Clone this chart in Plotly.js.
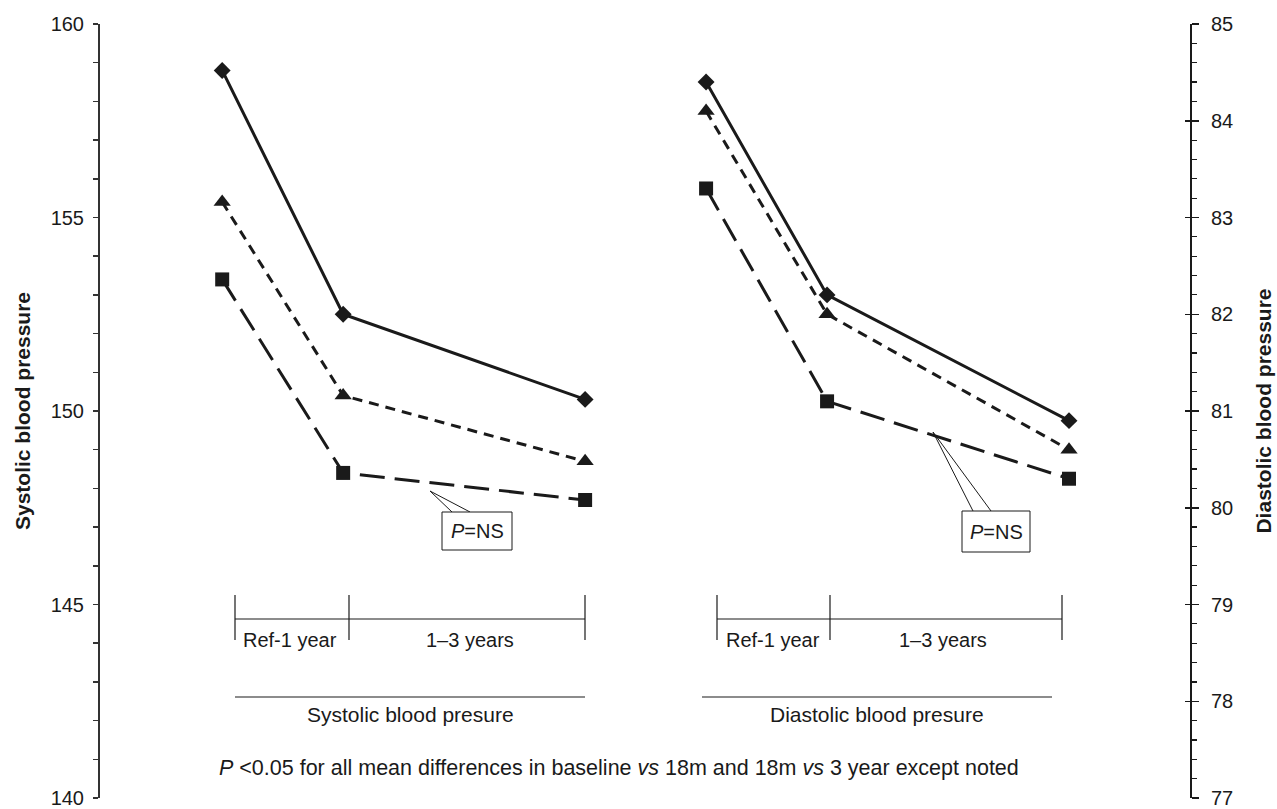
<!DOCTYPE html>
<html>
<head>
<meta charset="utf-8">
<script src="https://cdn.plot.ly/plotly-3.0.1.min.js"></script>
<style>html,body{margin:0;padding:0;background:#fff;}#chart{width:1277px;height:809px;}</style>
</head>
<body>
<div id="chart"></div>
<script>
// ---- data ----
const timepoints = [0, 1, 3];            // years: reference, 1 year, 3 years
const sysDiamond  = [158.8, 152.5, 150.3];
const sysTriangle = [155.4, 150.4, 148.7];
const sysSquare   = [153.4, 148.4, 147.7];
const diaDiamond  = [84.4, 82.2, 80.9];
const diaTriangle = [84.1, 82.0, 80.6];
const diaSquare   = [83.3, 81.1, 80.3];
const sysTicks = [140, 145, 150, 155, 160];
const diaTicks = [77, 78, 79, 80, 81, 82, 83, 84, 85];

// ---- layout helpers ----
const diaOffset = 4;
const L = 100, R = 1190, T = 24, B = 798;
function px(x) { return (x - L) / (R - L); }
function py(y) { return (B - y) / (B - T); }
const ink = '#1a1a1a';
const FONT = 'Liberation Sans, Arial, sans-serif';
const FS = 20;

function series(xs, ys, yaxis, symbol, size, dash) {
  return {
    x: xs, y: ys, yaxis: yaxis, type: 'scatter', mode: 'lines+markers',
    line: {color: ink, width: 3, dash: dash},
    marker: {symbol: symbol, size: size, color: ink},
    showlegend: false, hoverinfo: 'skip'
  };
}
const diaX = timepoints.map(t => t + diaOffset);
const traces = [
  series(timepoints, sysDiamond, 'y', 'diamond', 13, 'solid'),
  series(timepoints, sysTriangle, 'y', 'triangle-up', 15, '10px,7px'),
  series(timepoints, sysSquare, 'y', 'square', 14, '25px,10px'),
  series(diaX, diaDiamond, 'y2', 'diamond', 13, 'solid'),
  series(diaX, diaTriangle, 'y2', 'triangle-up', 15, '10px,7px'),
  series(diaX, diaSquare, 'y2', 'square', 14, '25px,10px'),
  // invisible trace to activate the third (inside-ticks) axis
  {x: [diaX[0]], y: [diaTicks[0]], yaxis: 'y3', mode: 'markers', marker: {opacity: 0}, showlegend: false, hoverinfo: 'skip'}
];

function seg(x0, y0, x1, y1, w) {
  return {type: 'line', xref: 'paper', yref: 'paper', x0: px(x0), y0: py(y0), x1: px(x1), y1: py(y1),
          line: {color: ink, width: w || 1.2}};
}
function path(pts) {
  let d = pts.map((p, i) => (i ? 'L' : 'M') + px(p[0]) + ',' + py(p[1])).join(' ');
  return {type: 'path', xref: 'paper', yref: 'paper', path: d, line: {color: ink, width: 1}};
}
function rect(x0, y0, x1, y1) {
  return {type: 'rect', xref: 'paper', yref: 'paper', x0: px(x0), y0: py(y0), x1: px(x1), y1: py(y1),
          line: {color: ink, width: 1}, fillcolor: '#fff'};
}
const shapes = [
  // systolic brackets
  seg(235, 595, 235, 640), seg(349, 595, 349, 640), seg(585, 595, 585, 640), seg(235, 619, 585, 619),
  seg(235, 697, 585, 697),
  // diastolic brackets
  seg(717, 595, 717, 640), seg(830, 595, 830, 640), seg(1062, 595, 1062, 640), seg(717, 619, 1062, 619),
  seg(702, 697, 1052, 697),
  // callouts
  path([[452, 512], [430, 491], [470, 512]]), rect(442, 512, 512, 550),
  path([[973, 511], [933, 432], [991, 511]]), rect(962, 511, 1030, 552)
];
function txt(x, y, text, size) {
  return {xref: 'paper', yref: 'paper', x: px(x), y: py(y), text: text, showarrow: false,
          xanchor: 'center', yanchor: 'middle', font: {family: FONT, size: size || FS, color: ink}};
}
const annotations = [
  txt(290, 640, 'Ref-1 year'), txt(470, 640, '1–3 years'),
  txt(773, 640, 'Ref-1 year'), txt(943, 640, '1–3 years'),
  txt(410, 714, 'Systolic blood presure', 21), txt(877, 714, 'Diastolic blood presure', 21),
  txt(477, 531, '<i>P</i>=NS'), txt(996, 532, '<i>P</i>=NS'),
  txt(619, 768, '<i>P</i> <0.05 for all mean differences in baseline <i>vs</i> 18m and 18m <i>vs</i> 3 year except noted', 21.5)
];

const layout = {
  width: 1277, height: 809,
  margin: {l: L, r: 1277 - R, t: T, b: 809 - B},
  paper_bgcolor: '#fff', plot_bgcolor: '#fff',
  font: {family: FONT, size: FS, color: ink},
  showlegend: false,
  xaxis: {range: [-1.01, 8.0], visible: false, fixedrange: true},
  yaxis: {
    range: [sysTicks[0], sysTicks[sysTicks.length - 1]], tickvals: sysTicks,
    ticks: 'outside', ticklen: 5, tickwidth: 1.5, tickcolor: '#333',
    minor: {dtick: 1, ticks: 'outside', ticklen: 5, tickwidth: 1.5, tickcolor: '#333'},
    showline: true, linewidth: 2, linecolor: '#333', showgrid: false, zeroline: false,
    tickfont: {family: FONT, size: FS, color: ink}, ticklabeloverflow: 'allow', ticklabelstandoff: 5,
    title: {text: 'Systolic blood pressure', font: {family: FONT, size: 21, color: ink, weight: 'bold'}, standoff: 14}
  },
  yaxis2: {
    range: [diaTicks[0], diaTicks[diaTicks.length - 1]], tickvals: diaTicks,
    overlaying: 'y', side: 'right', anchor: 'x',
    ticks: 'outside', ticklen: 7, tickwidth: 1.5, tickcolor: ink,
    minor: {dtick: 0.2, ticks: 'outside', ticklen: 5, tickwidth: 1.2, tickcolor: ink},
    showline: true, linewidth: 2, linecolor: ink, showgrid: false, zeroline: false,
    tickfont: {family: FONT, size: FS, color: ink}, ticklabeloverflow: 'allow', ticklabelstandoff: 8,
    title: {text: 'Diastolic blood pressure', font: {family: FONT, size: 21, color: ink, weight: 'bold'}, standoff: 24}
  },
  yaxis3: {
    range: [diaTicks[0], diaTicks[diaTicks.length - 1]], tickvals: diaTicks,
    overlaying: 'y', side: 'right', anchor: 'x',
    ticks: 'inside', ticklen: 5, tickwidth: 1.5, tickcolor: ink,
    showticklabels: false, showline: false, showgrid: false, zeroline: false
  },
  shapes: shapes,
  annotations: annotations
};
Plotly.newPlot('chart', traces, layout, {staticPlot: true});
</script>
</body>
</html>
